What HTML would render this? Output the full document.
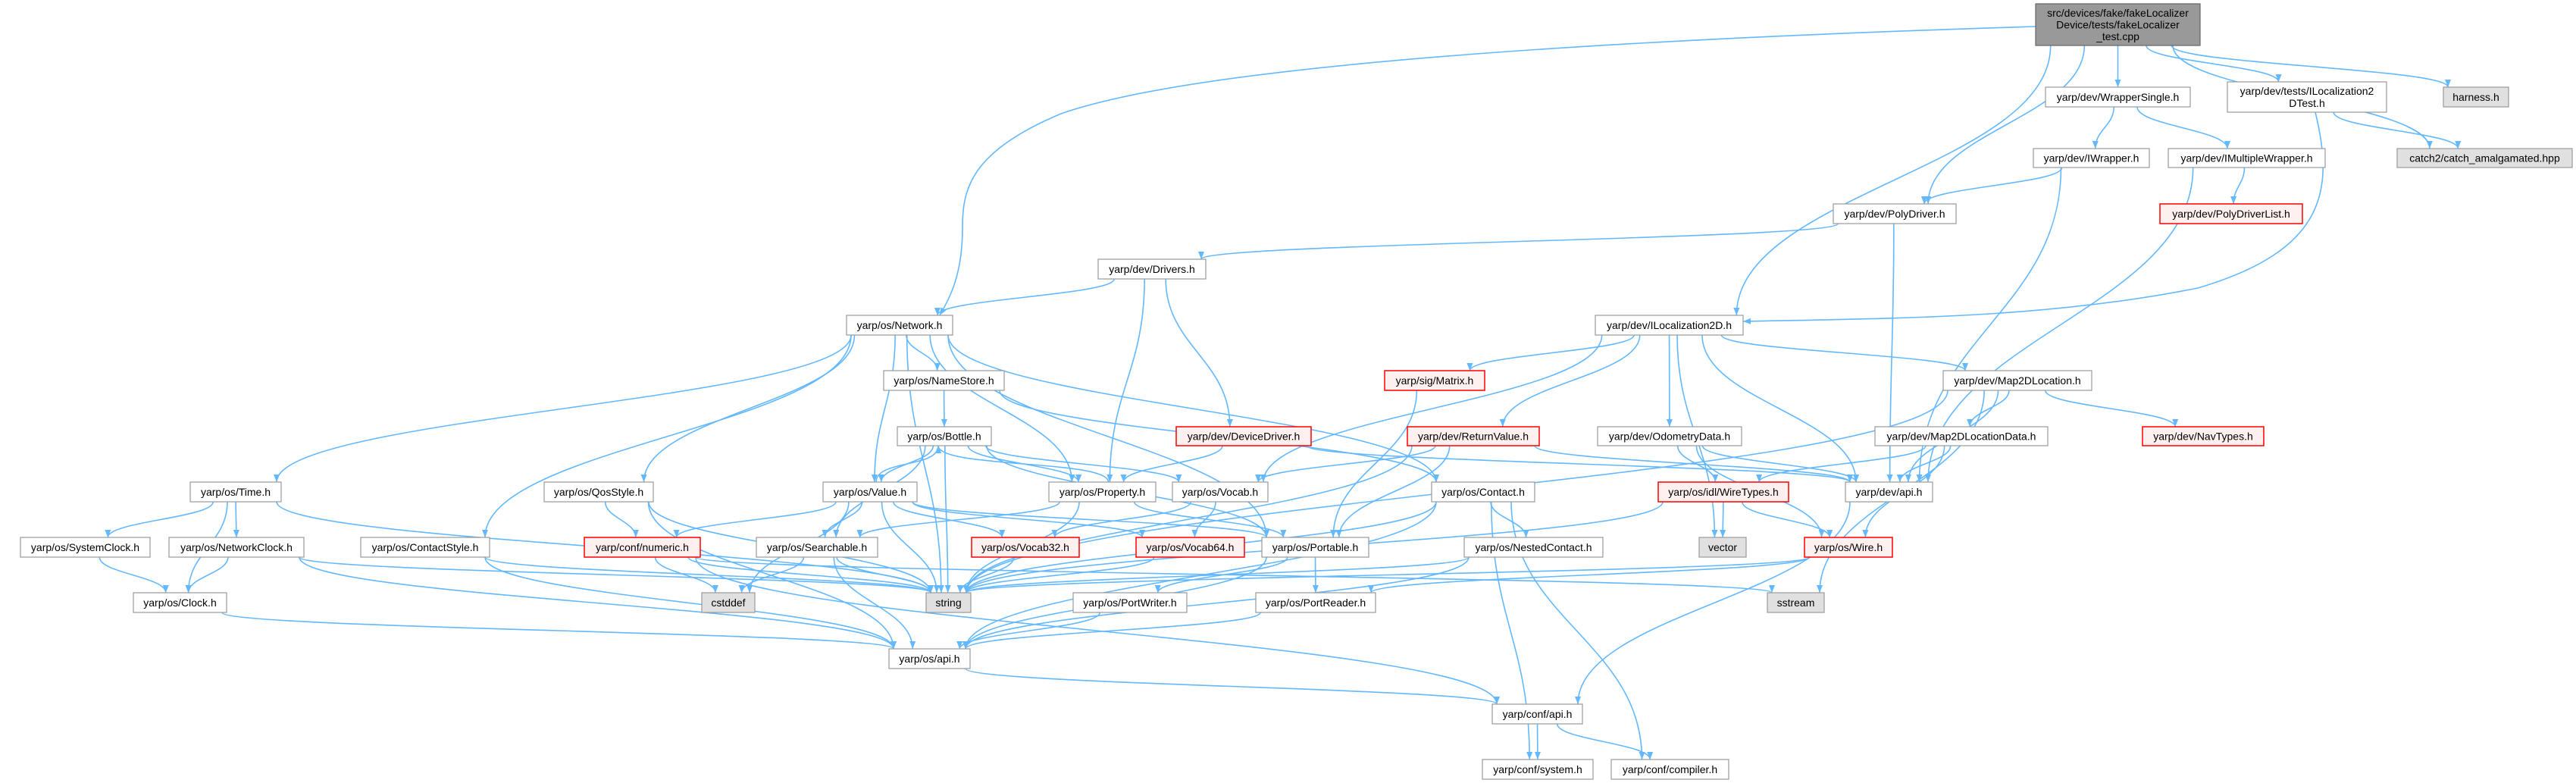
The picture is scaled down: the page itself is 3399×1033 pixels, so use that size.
<!DOCTYPE html>
<html><head><meta charset="utf-8"><style>
html,body{margin:0;padding:0;background:#fff;}
svg{display:block;}
text{font-family:"Liberation Sans",sans-serif;font-size:14px;fill:#000;}
</style></head><body>
<svg id="g" width="3399" height="1033" viewBox="0 0 3399 1033" xmlns="http://www.w3.org/2000/svg">
<defs><marker id="a" viewBox="0 0 10 10" refX="10" refY="5" markerWidth="10" markerHeight="10" markerUnits="userSpaceOnUse" orient="auto"><path d="M0,1 L10,5 L0,9 z" fill="#63b8ff"/></marker></defs>
<g id="edges" fill="none" stroke="#63b8ff" stroke-width="1.6">
<path d="M2686,35 C2200,50 1600,80 1400,150 C1280,200 1270,250 1270,300 C1270,360 1255,390 1240,416" marker-end="url(#a)"/>
<path d="M3055,148 C3080,250 3070,330 2900,380 C2700,420 2500,420 2300,424" marker-end="url(#a)"/>
</g>
<g id="nodes"></g>
</svg>
<script>
var N={
root:[2686,5,2903,60,'r',['src/devices/fake/fakeLocalizer','Device/tests/fakeLocalizer','_test.cpp']],
ws:[2699,115,2890,141,'w',['yarp/dev/WrapperSingle.h']],
lt:[2939,108,3149,148,'w',['yarp/dev/tests/ILocalization2','DTest.h']],
har:[3224,115,3310,141,'g',['harness.h']],
iw:[2683,196,2836,221,'w',['yarp/dev/IWrapper.h']],
imw:[2861,196,3068,221,'w',['yarp/dev/IMultipleWrapper.h']],
cat:[3163,196,3394,221,'g',['catch2/catch_amalgamated.hpp']],
pd:[2419,269,2581,295,'w',['yarp/dev/PolyDriver.h']],
pdl:[2850,269,3038,295,'x',['yarp/dev/PolyDriverList.h']],
il:[2105,416,2300,442,'w',['yarp/dev/ILocalization2D.h']],
mat:[1827,489,1959,515,'x',['yarp/sig/Matrix.h']],
m2:[2564,489,2760,515,'w',['yarp/dev/Map2DLocation.h']],
drv:[1449,342,1591,368,'w',['yarp/dev/Drivers.h']],
net:[1117,416,1257,442,'w',['yarp/os/Network.h']],
ns:[1166,489,1325,515,'w',['yarp/os/NameStore.h']],
bot:[1184,563,1308,588,'w',['yarp/os/Bottle.h']],
dd:[1552,563,1730,588,'x',['yarp/dev/DeviceDriver.h']],
rv:[1857,563,2031,588,'x',['yarp/dev/ReturnValue.h']],
od:[2108,563,2298,588,'w',['yarp/dev/OdometryData.h']],
m2d:[2474,563,2702,588,'w',['yarp/dev/Map2DLocationData.h']],
nav:[2827,563,2987,588,'x',['yarp/dev/NavTypes.h']],
time:[251,636,371,662,'w',['yarp/os/Time.h']],
qos:[718,636,862,662,'w',['yarp/os/QosStyle.h']],
val:[1086,636,1210,662,'w',['yarp/os/Value.h']],
prop:[1384,636,1525,662,'w',['yarp/os/Property.h']],
voc:[1547,636,1673,662,'w',['yarp/os/Vocab.h']],
con:[1889,636,2025,662,'w',['yarp/os/Contact.h']],
wt:[2188,636,2360,662,'x',['yarp/os/idl/WireTypes.h']],
dapi:[2435,636,2550,662,'w',['yarp/dev/api.h']],
sc:[27,709,198,735,'w',['yarp/os/SystemClock.h']],
nc:[223,709,401,735,'w',['yarp/os/NetworkClock.h']],
cs:[476,709,646,735,'w',['yarp/os/ContactStyle.h']],
num:[771,709,924,735,'x',['yarp/conf/numeric.h']],
sea:[998,709,1158,735,'w',['yarp/os/Searchable.h']],
v32:[1282,709,1424,735,'x',['yarp/os/Vocab32.h']],
v64:[1499,709,1642,735,'x',['yarp/os/Vocab64.h']],
port:[1665,709,1806,735,'w',['yarp/os/Portable.h']],
nest:[1932,709,2115,735,'w',['yarp/os/NestedContact.h']],
vec:[2242,709,2304,735,'g',['vector']],
wire:[2381,709,2497,735,'x',['yarp/os/Wire.h']],
clk:[176,782,299,808,'w',['yarp/os/Clock.h']],
csd:[926,782,996,808,'g',['cstddef']],
str:[1222,782,1281,808,'g',['string']],
pw:[1416,782,1566,808,'w',['yarp/os/PortWriter.h']],
pr:[1657,782,1815,808,'w',['yarp/os/PortReader.h']],
ss:[2332,782,2407,808,'g',['sstream']],
oapi:[1173,856,1280,882,'w',['yarp/os/api.h']],
capi:[1969,929,2088,955,'w',['yarp/conf/api.h']],
sys:[1956,1002,2102,1028,'w',['yarp/conf/system.h']],
comp:[2126,1002,2281,1028,'w',['yarp/conf/compiler.h']]
};
var E=[
['root','ws'],['root','lt'],['root','har'],['root','cat'],['root','pd'],['root','il'],
['ws','iw'],['ws','imw'],['lt','cat'],['iw','pd'],['iw','dapi'],['imw','pdl'],['imw','dapi'],
['pd','drv'],['pd','dapi'],['drv','net'],['drv','prop'],['drv','dd'],
['net','time'],['net','qos'],['net','cs'],['net','ns'],['net','val'],['net','prop'],['net','port'],['net','con'],['net','str'],
['ns','bot'],['ns','con'],['bot','val'],['bot','prop'],['bot','voc'],['bot','sea'],['bot','str'],['bot','port'],
['val','bot'],['val','sea'],['val','num'],['val','v32'],['val','v64'],['val','port'],['val','str'],['val','csd'],
['prop','bot'],['prop','sea'],['prop','str'],['prop','port'],['voc','v32'],['voc','v64'],
['dd','prop'],['dd','dapi'],
['il','mat'],['il','rv'],['il','voc'],['il','vec'],['il','od'],['il','m2'],['il','dapi'],
['mat','port'],['rv','voc'],['rv','port'],['rv','str'],['rv','dapi'],
['od','wt'],['od','dapi'],['od','wire'],['m2','m2d'],['m2','nav'],['m2','dapi'],['m2','str'],['m2','ss'],
['m2d','wt'],['m2d','dapi'],['m2d','wire'],['wt','vec'],['wt','wire'],['wt','str'],['wire','pr'],['wire','str'],
['dapi','capi'],['time','sc'],['time','nc'],['time','clk'],['time','str'],['sc','clk'],['nc','clk'],['nc','str'],['nc','oapi'],
['cs','oapi'],['cs','str'],['qos','num'],['qos','str'],['qos','oapi'],['num','csd'],['num','str'],['num','capi'],['num','ss'],
['sea','csd'],['sea','str'],['sea','oapi'],['v32','str'],['v64','str'],['port','pw'],['port','pr'],['port','oapi'],
['con','nest'],['con','str'],['con','oapi'],['con','sys'],['con','comp'],['nest','str'],['nest','oapi'],
['pw','oapi'],['pr','oapi'],['clk','oapi'],['oapi','capi'],['capi','sys'],['capi','comp']
];
var ns='http://www.w3.org/2000/svg',eg=document.getElementById('edges'),ng=document.getElementById('nodes');
function cx(n){return (n[0]+n[2])/2;}
E.forEach(function(e){
 var s=N[e[0]],t=N[e[1]],d;
 var sx=cx(s),tx=cx(t);
 if(t[1]>=s[3]){
   var x1=sx+Math.max(-(s[2]-s[0])/2+6,Math.min((s[2]-s[0])/2-6,(tx-sx)*0.15));
   var y1=s[3], y2=t[1];
   var x2=tx+Math.max(-(t[2]-t[0])/2+6,Math.min((t[2]-t[0])/2-6,(sx-tx)*0.15));
   var dy=(y2-y1)*0.45;
   d='M'+x1+','+y1+' C'+x1+','+(y1+dy)+' '+x2+','+(y2-dy)+' '+x2+','+y2;
 } else if(t[3]<=s[1]){
   var x1=sx+8,x2=tx-8; d='M'+x1+','+s[1]+' C'+x1+','+(s[1]-30)+' '+x2+','+(t[3]+30)+' '+x2+','+t[3];
 } else {
   var y=(s[1]+s[3])/2, x1=tx>sx?s[2]:s[0], x2=tx>sx?t[0]:t[2];
   d='M'+x1+','+y+' L'+x2+','+y;
 }
 var p=document.createElementNS(ns,'path');p.setAttribute('d',d);p.setAttribute('marker-end','url(#a)');eg.appendChild(p);
});
var sty={w:['#fff','#999'],r:['#999','#666'],g:['#e0e0e0','#999'],x:['#fff0f0','#ff0000']};
for(var k in N){var n=N[k],st=sty[n[4]];
 var r=document.createElementNS(ns,'rect');
 r.setAttribute('x',n[0]);r.setAttribute('y',n[1]);r.setAttribute('width',n[2]-n[0]);r.setAttribute('height',n[3]-n[1]);
 r.setAttribute('fill',st[0]);r.setAttribute('stroke',st[1]);r.setAttribute('stroke-width',n[4]=='x'?1.5:1.2);ng.appendChild(r);
 var ls=n[5],h=n[3]-n[1],lh=ls.length>1?(h-8)/ls.length:h;
 ls.forEach(function(L,i){var t=document.createElementNS(ns,'text');
  t.setAttribute('x',cx(n));t.setAttribute('text-anchor','middle');
  t.setAttribute('y',n[1]+(ls.length>1?4+lh*(i+0.5):h/2)+5);
  t.textContent=L;ng.appendChild(t);});
}
</script>
</body></html>
